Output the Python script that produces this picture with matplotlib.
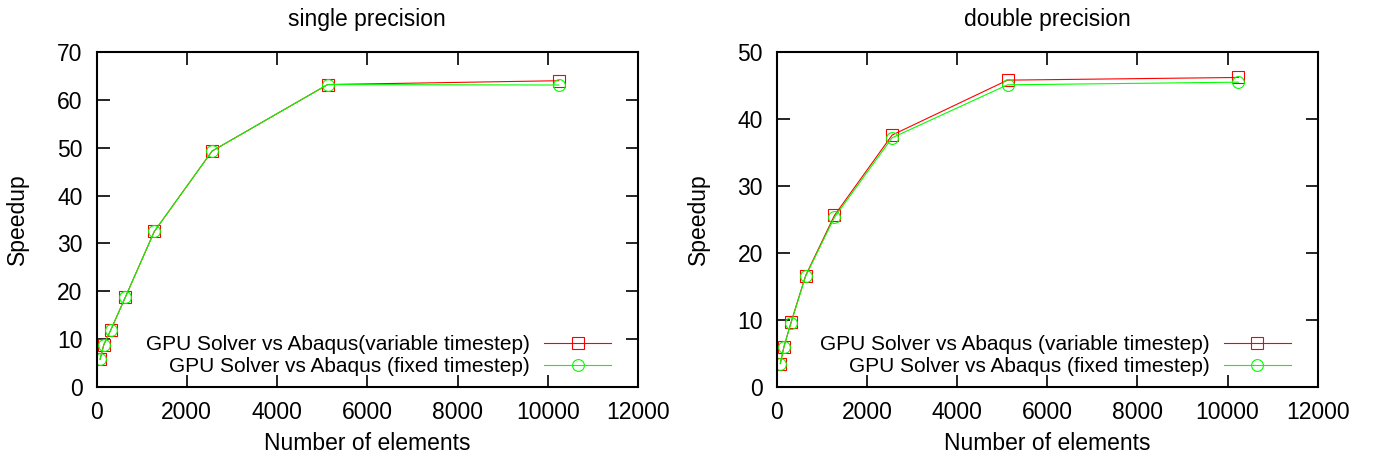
import matplotlib
matplotlib.use("Agg")
import matplotlib.pyplot as plt

plt.rcParams['font.family'] = ['Liberation Sans', 'DejaVu Sans']

elements = [80, 160, 320, 640, 1280, 2560, 5120, 10240]

single_variable = [5.8, 8.8, 12.0, 18.8, 32.5, 49.3, 63.2, 64.0]
single_fixed = [5.8, 8.8, 12.0, 18.8, 32.5, 49.3, 63.2, 63.1]

double_variable = [3.5, 6.0, 9.7, 16.6, 25.6, 37.6, 45.8, 46.2]
double_fixed = [3.5, 6.0, 9.6, 16.5, 25.3, 37.2, 45.1, 45.5]

titles = ["single precision", "double precision"]
labels_single = ["GPU Solver vs Abaqus(variable timestep)", "GPU Solver vs Abaqus (fixed timestep)"]
labels_double = ["GPU Solver vs Abaqus (variable timestep)", "GPU Solver vs Abaqus (fixed timestep)"]
ylims = [(0, 70), (0, 50)]
yticks = [range(0, 71, 10), range(0, 51, 10)]
xticks = range(0, 12001, 2000)

fig = plt.figure(figsize=(13.73, 4.59), dpi=100)
ax1 = fig.add_axes([0.0703, 0.1569, 0.3945, 0.7298])
ax2 = fig.add_axes([0.5657, 0.1569, 0.394, 0.7298])

panels = [
    (ax1, single_variable, single_fixed, labels_single),
    (ax2, double_variable, double_fixed, labels_double),
]

for i, (ax, var, fix, labels) in enumerate(panels):
    ax.plot(elements, var, color="#ff0000", lw=0.8, marker="s", ms=8.5,
            mfc="none", mec="#ff0000", mew=0.8, label=labels[0])
    ax.plot(elements, fix, color="#00ff00", lw=0.8, marker="o", ms=8.5,
            mfc="none", mec="#00ff00", mew=0.8, label=labels[1])
    ax.set_xlim(0, 12000)
    ax.set_ylim(*ylims[i])
    ax.set_xticks(list(xticks))
    ax.set_yticks(list(yticks[i]))
    ax.tick_params(direction="in", length=9, width=1.2, top=True, right=True,
                   labelsize=16.5, pad=10)
    for s in ax.spines.values():
        s.set_linewidth(1.5)
    ax.set_title(titles[i], fontsize=16.5, pad=19)
    ax.set_xlabel("Number of elements", fontsize=16.5, labelpad=6)
    ax.set_ylabel("Speedup", fontsize=16.5, labelpad=20)
    ax.legend(loc="lower right", bbox_to_anchor=(0.95, 0.033), frameon=False,
              markerfirst=False, fontsize=15, handlelength=3.2,
              handletextpad=0.7, labelspacing=0.12, borderpad=0, borderaxespad=0)

fig.savefig("out.png", dpi=100)
